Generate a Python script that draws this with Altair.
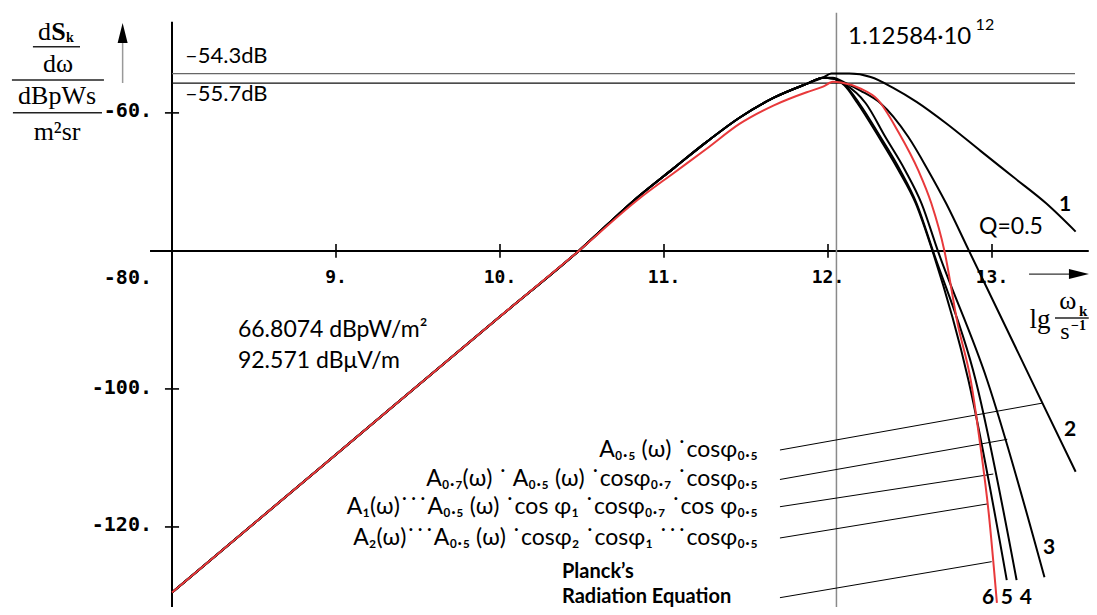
import altair as alt
import pandas as pd

# ---------------- values ----------------
# shared rising branch (Rayleigh-Jeans part)
RISE_X = [8.0, 9.0, 10.0, 10.48, 10.85, 11.06, 11.26, 11.46, 11.67, 11.87, 11.97]
RED_RISE_Y = [-129.5, -109.5, -89.5, -80.0, -72.4, -68.7, -65.2, -61.6, -58.9, -57.0, -56.2]
BLACK_RISE_Y = [-129.5, -109.5, -89.5, -80.0, -72.0, -68.0, -64.2, -60.7, -57.8, -55.8, -54.9]

# falling branches
C1_X = [12.02, 12.13, 12.26, 12.4, 12.54, 12.72, 12.93, 13.13, 13.33, 13.51]
C1_Y = [-54.3, -54.3, -54.8, -56.4, -58.4, -61.5, -65.5, -69.3, -73.1, -77.2]
C2_X = [12.03, 12.1, 12.2, 12.32, 12.49, 12.61, 12.72, 12.86, 13.27, 13.51]
C2_Y = [-54.9, -55.6, -56.8, -58.6, -63.5, -68.3, -73.1, -80.0, -100.2, -112.0]
C3_X = [12.03, 12.1, 12.23, 12.35, 12.47, 12.57, 12.67, 12.97, 13.32]
C3_Y = [-55.0, -55.8, -58.6, -63.5, -68.3, -73.1, -80.0, -98.7, -127.3]
C4_X = [12.03, 12.1, 12.19, 12.32, 12.44, 12.54, 12.64, 12.9, 13.15]
C4_Y = [-55.0, -55.9, -58.6, -63.5, -68.3, -73.1, -80.0, -98.7, -127.7]
C5_X = [12.03, 12.1, 12.18, 12.31, 12.43, 12.535, 12.637, 12.856, 13.09]
C5_Y = [-55.0, -56.0, -58.6, -63.5, -68.3, -73.1, -80.0, -98.7, -127.7]
C6_X = [12.03, 12.08, 12.2, 12.3, 12.43, 12.55, 12.63, 12.71, 12.79, 12.87, 12.93, 12.98, 13.03]
C6_Y = [-55.5, -55.6, -56.5, -58.0, -62.8, -68.3, -73.1, -80.0, -90.5, -98.7, -108.4, -118.0, -131.0]

PEAK_LEVELS = [-54.3, -55.7]
PEAK_LABELS = ["\u201354.3dB", "\u201355.7dB"]
PEAK_OMEGA = 12.0515
PEAK_OMEGA_LABEL = "1.12584\u00b710"
PEAK_OMEGA_EXP = "12"

X_TICKS = [9, 10, 11, 12, 13]
X_TICK_LABELS = ["9.", "10.", "11.", "12.", "13."]
Y_TICKS = [-60, -100, -120]
Y_TICK_LABELS = ["-60.", "-80.", "-100.", "-120."]
Y_TICK_LABEL_Y = [-59.7, -83.9, -99.9, -119.7]

FORMULAS = [
    "A\u2080.\u2085 (\u03c9) \u02d9cos\u03c6\u2080.\u2085",
    "A\u2080.\u2087(\u03c9) \u02d9 A\u2080.\u2085 (\u03c9) \u02d9cos\u03c6\u2080.\u2087 \u02d9cos\u03c6\u2080.\u2085",
    "A\u2081(\u03c9)\u02d9\u02d9\u02d9A\u2080.\u2085 (\u03c9) \u02d9cos \u03c6\u2081 \u02d9cos\u03c6\u2080.\u2087 \u02d9cos \u03c6\u2080.\u2085",
    "A\u2082(\u03c9)\u02d9\u02d9\u02d9A\u2080.\u2085 (\u03c9) \u02d9cos\u03c6\u2082 \u02d9cos\u03c6\u2081 \u02d9\u02d9\u02d9cos\u03c6\u2080.\u2085",
]
FORMULA_Y = [-109.8, -114.1, -118.1, -122.6]
LEADER_START = [(11.707, -108.85), (11.707, -113.12), (11.707, -117.07), (11.707, -121.60), (11.707, -130.25)]
LEADER_END = [(13.311, -102.04), (13.093, -107.30), (13.008, -112.33), (12.971, -116.67), (12.998, -125.03)]

CURVE_LABELS = ["1", "2", "3", "6", "5", "4"]
CURVE_LABEL_X = [13.445, 13.476, 13.348, 12.976, 13.091, 13.207]
CURVE_LABEL_Y = [-73.35, -105.95, -123.05, -130.3, -130.3, -130.3]

# ---------------- scales ----------------
W, H = 1081, 599
xs = alt.Scale(domain=[7.0, 7.0 + W / 164], nice=False, zero=False)
ys = alt.Scale(domain=[-131.6, -44.8], nice=False, zero=False)


def X(f="x"):
    return alt.X(f"{f}:Q", scale=xs, axis=None)


def Y(f="y"):
    return alt.Y(f"{f}:Q", scale=ys, axis=None)


# ---------------- curves ----------------
rows = []
for name, cx, cy in [
    ("1", RISE_X + C1_X, BLACK_RISE_Y + C1_Y),
    ("2", RISE_X + C2_X, BLACK_RISE_Y + C2_Y),
    ("3", RISE_X + C3_X, BLACK_RISE_Y + C3_Y),
    ("4", RISE_X + C4_X, BLACK_RISE_Y + C4_Y),
    ("5", RISE_X + C5_X, BLACK_RISE_Y + C5_Y),
]:
    for i, (a, b) in enumerate(zip(cx, cy)):
        rows.append(dict(curve=name, i=i, x=a, y=b))
black_df = pd.DataFrame(rows)
red_df = pd.DataFrame(dict(i=range(len(RISE_X + C6_X)), x=RISE_X + C6_X, y=RED_RISE_Y + C6_Y))

black = alt.Chart(black_df).mark_line(color="black", strokeWidth=2, strokeJoin="round",
                                      interpolate="monotone").encode(
    x=X(), y=Y(), detail="curve:N", order="i:Q")
red = alt.Chart(red_df).mark_line(color="#e8393b", strokeWidth=2, strokeJoin="round",
                                  interpolate="monotone").encode(
    x=X(), y=Y(), order="i:Q")

# ---------------- segments ----------------
seg = []
# axes
seg.append((8.0, -46.8, 8.0, -131.6, "black", 2.0))
seg.append((7.866, -80.0, 13.59, -80.0, "black", 2.0))
# peak guide lines
seg.append((PEAK_OMEGA, -45.5, PEAK_OMEGA, -131.6, "#8a8a8a", 1.5))
seg.append((8.0, PEAK_LEVELS[0], 13.506, PEAK_LEVELS[0], "#666666", 1.3))
seg.append((8.0, PEAK_LEVELS[1], 13.506, PEAK_LEVELS[1], "#111111", 1.3))
# ticks
for t in X_TICKS:
    seg.append((t, -79.0, t, -81.0, "black", 1.6))
for t in Y_TICKS:
    seg.append((7.957, t, 8.043, t, "black", 1.6))
# arrows shafts
seg.append((7.699, -55.67, 7.699, -49.3, "#999999", 1.5))
seg.append((13.226, -83.35, 13.50, -83.35, "#333333", 1.3))
# fraction bars (y label & x label)
seg.append((7.152, -50.41, 7.439, -50.41, "#222222", 1.6))
seg.append((7.024, -55.23, 7.585, -55.23, "#222222", 1.6))
seg.append((7.030, -59.97, 7.573, -59.97, "#222222", 1.6))
seg.append((13.384, -89.72, 13.59, -89.72, "#222222", 1.3))
# leaders
for (a, b), (c, d) in zip(LEADER_START, LEADER_END):
    seg.append((a, b, c, d, "black", 1.0))
seg_df = pd.DataFrame(seg, columns=["x", "y", "x2", "y2", "c", "w"])
segments = alt.Chart(seg_df).mark_rule(strokeCap="butt").encode(
    x=X(), y=Y(), x2=alt.X2("x2:Q"), y2=alt.Y2("y2:Q"),
    color=alt.Color("c:N", scale=None), strokeWidth=alt.StrokeWidth("w:Q", scale=None))

# ---------------- arrow heads ----------------
heads = pd.DataFrame([
    dict(x=7.699, y=-48.42, shape="M-0.5,1L0,-1L0.5,1Z"),
    dict(x=13.530, y=-83.35, shape="M-1,-0.5L1,0L-1,0.5Z"),
])
head_layer = alt.Chart(heads).mark_point(filled=True, size=400, color="black", opacity=1, strokeWidth=0).encode(
    x=X(), y=Y(), shape=alt.Shape("shape:N", scale=None))


# ---------------- text ----------------
def text_layer(items, font, weight="normal", align="left", baseline="middle", color="black"):
    df = pd.DataFrame(items, columns=["t", "x", "y", "s"])
    return alt.Chart(df).mark_text(font=font, fontWeight=weight, align=align, baseline=baseline,
                                   color=color).encode(
        x=X(), y=Y(), text="t:N", size=alt.Size("s:Q", scale=None))


SANS = "Lato"
MONO = "DejaVu Sans Mono"
SERIF = "Liberation Serif"

tick_items = [(lab, t, -83.9, 18) for lab, t in zip(X_TICK_LABELS, X_TICKS)]
ytick_items = [(lab, 7.878, yy, 20) for lab, yy in zip(Y_TICK_LABELS, Y_TICK_LABEL_Y)]

sans_left = [
    (PEAK_LABELS[0], 8.079, -51.76, 22),
    (PEAK_LABELS[1], 8.079, -57.26, 22),
    (PEAK_OMEGA_LABEL, 12.122, -49.0, 24),
    (PEAK_OMEGA_EXP, 12.90, -47.2, 16),
    ("Q=0.5", 12.921, -76.53, 23),
    ("66.8074 dBpW/m\u00b2", 8.402, -91.46, 23),
    ("92.571 dB\u03bcV/m", 8.402, -95.95, 23),
]
formula_items = [(f, 11.573, yy, 23) for f, yy in zip(FORMULAS, FORMULA_Y)]
bold_center = [(l, x, y, 21) for l, x, y in zip(CURVE_LABELS, CURVE_LABEL_X, CURVE_LABEL_Y)]
bold_left = [("Planck\u2019s", 10.378, -127.4, 20), ("Radiation Equation", 10.378, -131.0, 20)]

serif_center = [
    ("d", 7.222, -48.28, 26),
    ("d\u03c9", 7.305, -52.91, 26),
    ("dBpWs", 7.299, -57.55, 26),
    ("m\u00b2sr", 7.299, -62.77, 26),
    ("lg", 13.293, -90.01, 27),
    ("\u03c9", 13.463, -87.26, 26),
    ("s", 13.445, -91.75, 24),
]
serif_bold_center = [("S", 7.308, -48.28, 26)]
serif_left = [
    ("k", 7.353, -49.1, 14),
    ("k", 13.530, -88.71, 15),
    ("\u22121", 13.482, -90.88, 14),
]

layers = [
    segments,
    black,
    red,
    head_layer,
    text_layer(tick_items, MONO, "bold", "center"),
    text_layer(ytick_items, MONO, "bold", "right"),
    text_layer(sans_left, SANS, "normal", "left"),
    text_layer(formula_items, SANS, "normal", "right", "alphabetic"),
    text_layer(bold_center, SANS, "bold", "center"),
    text_layer(bold_left, SANS, "bold", "left", "alphabetic"),
    text_layer(serif_center, SERIF, "normal", "center"),
    text_layer(serif_bold_center, SERIF, "bold", "center"),
    text_layer(serif_left, SERIF, "bold", "left"),
]

chart = alt.layer(*layers).properties(
    width=W, height=H, padding=0, autosize=alt.AutoSizeParams(type="none"), background="white"
).configure_view(stroke=None)

chart.save("out.html", embed_options={"renderer": "svg", "actions": False})
